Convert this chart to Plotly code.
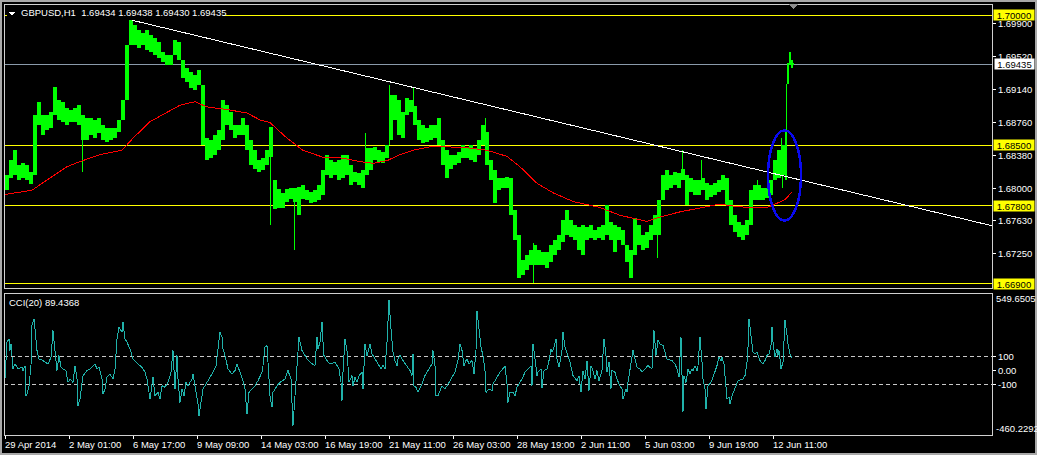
import numpy as np
import plotly.graph_objects as go

# ---------------- data ----------------
# hourly bar index (1 bar per hour, weekends skipped), sampled envelopes
bar_x = list(range(0, 781, 4)) + [782, 784, 786, 788]
bar_high = [
    1.6816, 1.6833, 1.6844, 1.6827, 1.6829, 1.6827, 1.6819, 1.6885, 1.6900, 1.6885,
    1.6885, 1.6888, 1.6917, 1.6902, 1.6900, 1.6893, 1.6891, 1.6893, 1.6896, 1.6885,
    1.6881, 1.6881, 1.6879, 1.6881, 1.6873, 1.6870, 1.6870, 1.6870, 1.6879, 1.6902,
    1.6965, 1.6994, 1.6988, 1.6983, 1.6979, 1.6983, 1.6977, 1.6974, 1.6969, 1.6957,
    1.6954, 1.6954, 1.6971, 1.6969, 1.6948, 1.6939, 1.6934, 1.6931, 1.6937, 1.6919,
    1.6858, 1.6856, 1.6862, 1.6867, 1.6902, 1.6896, 1.6888, 1.6873, 1.6873, 1.6881,
    1.6873, 1.6856, 1.6844, 1.6833, 1.6835, 1.6844, 1.6871, 1.6810, 1.6799, 1.6795,
    1.6799, 1.6801, 1.6801, 1.6802, 1.6804, 1.6798, 1.6796, 1.6798, 1.6804, 1.6821,
    1.6839, 1.6833, 1.6831, 1.6833, 1.6839, 1.6839, 1.6827, 1.6819, 1.6818, 1.6821,
    1.6847, 1.6847, 1.6848, 1.6844, 1.6842, 1.6850, 1.6908, 1.6908, 1.6902, 1.6888,
    1.6904, 1.6902, 1.6895, 1.6879, 1.6873, 1.6870, 1.6873, 1.6873, 1.6881, 1.6856,
    1.6844, 1.6839, 1.6839, 1.6842, 1.6850, 1.6848, 1.6850, 1.6847, 1.6856, 1.6873,
    1.6865, 1.6833, 1.6821, 1.6812, 1.6812, 1.6813, 1.6812, 1.6775, 1.6746, 1.6718,
    1.6723, 1.6729, 1.6735, 1.6729, 1.6727, 1.6727, 1.6735, 1.6741, 1.6746, 1.6764,
    1.6775, 1.6764, 1.6758, 1.6755, 1.6758, 1.6755, 1.6758, 1.6752, 1.6755, 1.6758,
    1.6781, 1.6761, 1.6758, 1.6755, 1.6752, 1.6735, 1.6729, 1.6766, 1.6758, 1.6746,
    1.6750, 1.6758, 1.6769, 1.6787, 1.6816, 1.6821, 1.6816, 1.6819, 1.6818, 1.6822,
    1.6816, 1.6812, 1.6810, 1.6810, 1.6812, 1.6806, 1.6804, 1.6806, 1.6810, 1.6816,
    1.6812, 1.6787, 1.6769, 1.6761, 1.6758, 1.6764, 1.6798, 1.6804, 1.6804, 1.6801,
    1.6801, 1.6810, 1.6833, 1.6844, 1.6850,
    1.6867, 1.6945, 1.6957, 1.6948, 1.6945,
]
bar_low = [
    1.6798, 1.6812, 1.6816, 1.6810, 1.6812, 1.6810, 1.6805, 1.6816, 1.6873, 1.6862,
    1.6867, 1.6870, 1.6885, 1.6879, 1.6877, 1.6873, 1.6877, 1.6877, 1.6873, 1.6856,
    1.6856, 1.6862, 1.6858, 1.6864, 1.6856, 1.6854, 1.6856, 1.6858, 1.6865, 1.6879,
    1.6902, 1.6965, 1.6965, 1.6962, 1.6965, 1.6960, 1.6957, 1.6954, 1.6950, 1.6946,
    1.6942, 1.6942, 1.6954, 1.6948, 1.6927, 1.6923, 1.6916, 1.6914, 1.6919, 1.6850,
    1.6833, 1.6835, 1.6839, 1.6844, 1.6856, 1.6873, 1.6867, 1.6858, 1.6862, 1.6862,
    1.6844, 1.6827, 1.6823, 1.6819, 1.6821, 1.6827, 1.6836, 1.6776, 1.6777, 1.6777,
    1.6784, 1.6788, 1.6784, 1.6769, 1.6788, 1.6787, 1.6783, 1.6784, 1.6787, 1.6792,
    1.6816, 1.6812, 1.6816, 1.6810, 1.6812, 1.6816, 1.6804, 1.6807, 1.6804, 1.6801,
    1.6816, 1.6821, 1.6833, 1.6831, 1.6829, 1.6835, 1.6856, 1.6879, 1.6862, 1.6858,
    1.6885, 1.6888, 1.6873, 1.6856, 1.6852, 1.6854, 1.6856, 1.6858, 1.6850, 1.6827,
    1.6812, 1.6823, 1.6827, 1.6829, 1.6835, 1.6835, 1.6833, 1.6831, 1.6839, 1.6850,
    1.6827, 1.6810, 1.6783, 1.6798, 1.6801, 1.6801, 1.6769, 1.6741, 1.6697, 1.6700,
    1.6706, 1.6712, 1.6712, 1.6712, 1.6712, 1.6708, 1.6715, 1.6723, 1.6729, 1.6738,
    1.6746, 1.6744, 1.6741, 1.6729, 1.6723, 1.6741, 1.6743, 1.6741, 1.6743, 1.6741,
    1.6746, 1.6741, 1.6727, 1.6741, 1.6735, 1.6715, 1.6697, 1.6723, 1.6735, 1.6729,
    1.6731, 1.6741, 1.6746, 1.6746, 1.6787, 1.6798, 1.6801, 1.6804, 1.6801, 1.6810,
    1.6781, 1.6796, 1.6792, 1.6792, 1.6798, 1.6787, 1.6790, 1.6792, 1.6796, 1.6798,
    1.6781, 1.6758, 1.6750, 1.6744, 1.6741, 1.6746, 1.6758, 1.6787, 1.6787, 1.6787,
    1.6789, 1.6792, 1.6810, 1.6812, 1.6816,
    1.6810, 1.6921, 1.6942, 1.6939, 1.6942,
]
# single-hour spikes
spike_x = [77, 265, 289, 360, 384, 408, 480, 528, 652, 677, 696, 752, 776, 777, 781]
spike_high = [1.6873, 1.6871, 1.6790, 1.6864, 1.6919, 1.6916, 1.6881, 1.6737, 1.6775,
              1.6844, 1.6833, 1.6810, 1.6858, 1.6820, 1.6921]
spike_low = [1.6819, 1.6758, 1.6729, 1.6821, 1.6850, 1.6879, 1.6833, 1.6691, 1.6720,
             1.6810, 1.6798, 1.6790, 1.6820, 1.6801, 1.6810]

# moving average (red)
ma_x = [0, 27, 45, 62, 75, 95, 117, 128, 145, 162, 175, 190, 202, 222, 242, 255, 265, 282,
        298, 318, 338, 355, 368, 382, 395, 408, 425, 442, 462, 482, 502, 515, 532, 548,
        568, 595, 615, 642, 655, 675, 702, 715, 732, 748, 762, 768, 780, 787]
ma_val = [1.6793, 1.6798, 1.6812, 1.6825, 1.6831, 1.6839, 1.6844, 1.6858, 1.6877, 1.6888,
          1.6896, 1.6900, 1.6894, 1.6891, 1.6887, 1.6879, 1.6876, 1.6858, 1.6844, 1.6836,
          1.6835, 1.6831, 1.6829, 1.6832, 1.6839, 1.6844, 1.6848, 1.6848, 1.6847, 1.6844,
          1.6837, 1.6825, 1.6806, 1.6795, 1.6785, 1.6778, 1.6769, 1.6762, 1.6767, 1.6773,
          1.6779, 1.6782, 1.6779, 1.6778, 1.6778, 1.6781, 1.6787, 1.6796]

# trend line (white)
trend_x = [127, 987]
trend_price = [1.6994, 1.6757]

# horizontal levels
levels = [1.70000, 1.68500, 1.67800, 1.66900]
current_price = 1.69435
price_ticks = [1.69900, 1.69520, 1.69140, 1.68760, 1.68380, 1.68000, 1.67630, 1.67250]

# highlighted zone (blue ellipse)
zone_x = [763, 796]
zone_price = [1.6763, 1.6867]

# CCI(20)
cci_x = [0, 2, 4, 5, 6, 8, 10, 13, 17, 18, 20, 21, 22, 24, 26, 27, 29, 31, 32, 34, 38, 43, 46, 48,
         50, 52, 54, 56, 58, 61, 63, 65, 68, 70, 72, 73, 75, 77, 78, 82, 85, 90, 92, 94, 97, 98,
         100, 102, 105, 108, 110, 112, 114, 117, 118, 120, 122, 125, 128, 133, 137, 140, 142,
         145, 148, 150, 153, 155, 157, 160, 163, 166, 168, 170, 172, 173, 175, 177, 179, 181,
         183, 187, 188, 191, 193, 194, 197, 198, 202, 205, 208, 211, 213, 215, 217, 218, 220,
         223, 227, 230, 232, 234, 236, 238, 240, 242, 244, 247, 250, 253, 257, 258, 260, 262,
         263, 265, 267, 268, 272, 275, 280, 283, 286, 287, 288, 290, 292, 294, 297, 302, 305,
         308, 310, 312, 313, 315, 317, 318, 319, 322, 325, 330, 332, 334, 336, 337, 338, 340,
         342, 343, 344, 347, 348, 350, 352, 354, 357, 358, 360, 362, 363, 365, 367, 370, 373,
         376, 378, 380, 382, 384, 386, 388, 390, 392, 393, 395, 398, 402, 405, 407, 408, 409,
         411, 413, 417, 420, 423, 427, 428, 430, 431, 433, 437, 440, 443, 447, 450, 453, 455,
         457, 459, 461, 462, 464, 467, 469, 471, 472, 474, 476, 478, 480, 481, 484, 487, 488,
         492, 495, 500, 502, 503, 505, 508, 510, 512, 517, 520, 524, 525, 526, 527, 528, 530,
         532, 533, 536, 537, 539, 542, 544, 546, 547, 549, 551, 552, 554, 557, 558, 560, 563,
         565, 568, 572, 574, 576, 578, 580, 582, 583, 584, 586, 588, 590, 592, 594, 597, 598,
         599, 601, 602, 604, 606, 607, 610, 612, 614, 617, 618, 621, 622, 623, 625, 628, 630,
         632, 635, 637, 640, 643, 647, 648, 649, 651, 653, 655, 658, 660, 662, 667, 670, 672,
         673, 674, 676, 677, 678, 679, 681, 683, 685, 687, 688, 690, 692, 693, 695, 697, 698,
         700, 701, 703, 706, 708, 710, 712, 714, 716, 717, 719, 721, 722, 724, 725, 727, 730,
         733, 738, 740, 742, 743, 744, 746, 748, 750, 752, 755, 758, 760, 762, 764, 766, 767,
         768, 770, 772, 773, 774, 775, 776, 778, 779, 780, 782, 783, 785, 787]
cci_val = [-62, 200, 224, 141, 188, 10, 45, 10, 21, -2, 33, -181, -169, -110, 33, 319, 367, 200,
           141, 81, 69, 45, 93, 283, 129, -2, 105, 21, 10, -2, -86, -62, -86, 33, -62, -252,
           -205, -86, -38, -2, 10, 45, 10, 21, -62, -169, -133, -50, -26, -62, 10, 224, 307,
           271, 343, 224, 200, 152, 81, 45, 21, -14, -62, -205, -50, -181, -157, -205, -110,
           -121, -86, -14, 141, -133, 105, -62, -229, -133, -181, -86, -110, -62, -26, -157,
           -240, -324, -181, -133, -86, -50, -14, 33, 164, 271, 236, 152, 105, 10, -26, -2, 45,
           10, -38, -74, -133, -312, -157, -133, -110, -74, -14, 33, 164, 176, 33, -181, -264,
           -157, -110, -86, -62, -2, -62, -205, -395, -181, 33, 236, 141, 81, 57, 45, 33, 236,
           152, 200, 343, 200, 105, 69, 45, 57, 33, 10, -86, -217, -14, 224, 141, 10, -86, -38,
           -110, -50, -86, -38, -14, -133, 188, 105, 141, 188, 117, 81, 45, 10, 33, 10, 200,
           498, 295, 129, 69, 33, 81, 105, 69, 33, -2, -38, 117, -110, -121, -157, -98, -38,
           -2, 45, 141, 33, -181, -181, -110, -133, -98, -50, -14, 69, 188, 141, 33, 69, 81,
           45, 69, -26, 141, 419, 271, 164, 105, -2, -157, -133, -145, -98, -50, -14, 29, -98,
           -229, -157, -157, -181, -121, -62, -14, 10, 21, 29, -110, 188, 81, -38, -14, 10,
           -129, -2, 10, 69, 152, 129, 164, 224, 81, 21, 141, 271, 164, 105, 57, -38, -74, -38,
           -157, -2, -62, 69, -14, -145, 33, -2, -62, -2, -74, -2, 117, 224, 105, -14, 57,
           -133, -2, -14, -62, -98, -133, -205, -133, -157, -86, -2, 141, 81, 21, 10, -14, 10,
           33, 10, 141, 283, 105, 212, 188, 176, 129, 81, 69, 45, 10, -26, -50, 236, -133,
           -295, -38, -86, 10, -26, 10, -2, 33, -2, 33, 236, 57, -62, -133, -276, -110, -86,
           -50, -14, 33, 93, 69, 93, 45, -121, -205, -193, -240, -181, -133, -74, -62, -38, 57,
           164, 367, 236, 129, 117, 129, 69, 45, 69, 105, 117, 176, 307, 200, 93, 152, 105, 141,
           81, 10, 57, 224, 355, 248, 188, 117, 89]
cci_levels = [100, -100]
cci_ticks = [100, 0, -100]
cci_tick_text = ["100", "0.00", "-100"]
cci_max, cci_min = 549.6505, -460.2292

# time axis
time_idx = [0, 64, 128, 192, 256, 320, 384, 448, 512, 576, 640, 704, 768]
time_text = ["29 Apr 2014", "2 May 01:00", "6 May 17:00", "9 May 09:00", "14 May 03:00",
             "16 May 19:00", "21 May 11:00", "26 May 03:00", "28 May 19:00", "2 Jun 11:00",
             "5 Jun 03:00", "9 Jun 19:00", "12 Jun 11:00"]

title_text = "GBPUSD,H1  1.69434 1.69438 1.69430 1.69435"
cci_title = "CCI(20) 89.4368"

# ---------------- figure ----------------
FONT = "Liberation Sans, Arial, sans-serif"
FS = 9.5
W, H = 1037, 455
ML, MR, MT, MB = 4, 45, 4, 20
PW, PH = W - ML - MR, H - MT - MB


def px_x(p):
    return (p - ML) / PW


def px_y(p):
    return (H - MB - p) / PH


main_dom = [px_y(288), 1.0]
cci_dom = [0.0, px_y(293)]

fig = go.Figure()

bx = np.array(bar_x, dtype=float)
bw = np.append(np.diff(bx), 1.0)
fig.add_trace(go.Bar(
    x=bar_x, y=np.array(bar_high) - np.array(bar_low), base=bar_low,
    width=bw, offset=0, marker=dict(color="#00FF00", line=dict(width=0)),
    xaxis="x", yaxis="y", hoverinfo="skip"))
fig.add_trace(go.Bar(
    x=spike_x, y=np.array(spike_high) - np.array(spike_low), base=spike_low,
    width=1, offset=0, marker=dict(color="#00FF00", line=dict(width=0)),
    xaxis="x", yaxis="y", hoverinfo="skip"))
fig.add_trace(go.Scatter(x=ma_x, y=ma_val, mode="lines",
                         line=dict(color="#FF0000", width=1), xaxis="x", yaxis="y"))
fig.add_trace(go.Scatter(x=trend_x, y=trend_price, mode="lines",
                         line=dict(color="#FFFFFF", width=1), xaxis="x", yaxis="y"))
fig.add_trace(go.Scatter(x=cci_x, y=cci_val, mode="lines",
                         line=dict(color="#20B2AA", width=1), xaxis="x", yaxis="y2"))

shapes = []
for lv in levels:
    shapes.append(dict(type="line", xref="x domain", x0=0, x1=1, yref="y", y0=lv, y1=lv,
                       line=dict(color="#FFFF00", width=1), layer="below"))
shapes.append(dict(type="line", xref="x domain", x0=0, x1=1, yref="y",
                   y0=current_price, y1=current_price,
                   line=dict(color="#8A9AAA", width=1), layer="below"))
for lv in cci_levels:
    shapes.append(dict(type="line", xref="x domain", x0=0, x1=1, yref="y2", y0=lv, y1=lv,
                       line=dict(color="#C8C8C8", width=1, dash="4px,3px"), layer="below"))
# blue ellipse
shapes.append(dict(type="circle", xref="x", yref="y", x0=zone_x[0], x1=zone_x[1],
                   y0=zone_price[0], y1=zone_price[1],
                   line=dict(color="#0A0AF0", width=2.5), layer="above"))
# panel frames
shapes.append(dict(type="rect", xref="x domain", yref="y domain", x0=0, x1=1, y0=0, y1=1,
                   line=dict(color="#D0D0D0", width=1), layer="above"))
shapes.append(dict(type="rect", xref="x domain", yref="y2 domain", x0=0, x1=1, y0=0, y1=1,
                   line=dict(color="#D0D0D0", width=1), layer="above"))
# black backing behind chart title
shapes.append(dict(type="rect", xref="paper", yref="paper", x0=px_x(7), x1=px_x(223),
                   y0=px_y(18), y1=px_y(8), fillcolor="black", line=dict(width=0),
                   layer="above"))
# small menu triangle
shapes.append(dict(type="path", xref="paper", yref="paper",
                   path=f"M {px_x(8)} {px_y(11.5)} L {px_x(16)} {px_y(11.5)} L {px_x(12)} {px_y(15.5)} Z",
                   fillcolor="white", line=dict(width=0), layer="above"))
# chart shift marker
shapes.append(dict(type="path", xref="paper", yref="paper",
                   path=f"M {px_x(788)} {px_y(4)} L {px_x(798)} {px_y(4)} L {px_x(793)} {px_y(9)} Z",
                   fillcolor="#8C8C8C", line=dict(width=0), layer="above"))
# outer window frame
shapes.append(dict(type="rect", xref="paper", yref="paper", x0=px_x(1), x1=px_x(1036),
                   y0=px_y(454), y1=px_y(1), line=dict(color="#A8A8A8", width=2),
                   layer="above"))

ann = []
ann.append(dict(xref="paper", yref="paper", x=px_x(19), y=px_y(12.5), xanchor="left",
                yanchor="middle", text=title_text, showarrow=False,
                font=dict(family=FONT, size=FS, color="white")))
ann.append(dict(xref="paper", yref="paper", x=px_x(7), y=px_y(302), xanchor="left",
                yanchor="middle", text=cci_title, showarrow=False,
                font=dict(family=FONT, size=FS, color="white")))
for i, t in zip(time_idx, time_text):
    ann.append(dict(xref="x", yref="paper", x=i, y=0, xanchor="left", yanchor="top",
                    xshift=-2, yshift=-2, text=t, showarrow=False,
                    font=dict(family=FONT, size=FS, color="white")))
for lv in levels:
    ann.append(dict(xref="paper", yref="y", x=1, y=lv, xanchor="left", yanchor="middle",
                    xshift=1, text=f"{lv:.5f}", showarrow=False, bgcolor="#FFFF00",
                    width=40, height=10, borderpad=0,
                    font=dict(family=FONT, size=FS, color="black")))
ann.append(dict(xref="paper", yref="y", x=1, y=current_price, xanchor="left",
                yanchor="middle", xshift=2, text=f"{current_price:.5f}", showarrow=False,
                bgcolor="#FFFFFF", width=39, height=10, borderpad=0,
                font=dict(family=FONT, size=FS, color="black")))
ann.append(dict(xref="paper", yref="y2", x=1, y=cci_max, xanchor="left", yanchor="middle",
                xshift=2, yshift=-6, text=f"{cci_max:.4f}", showarrow=False,
                font=dict(family=FONT, size=FS, color="white")))
ann.append(dict(xref="paper", yref="y2", x=1, y=cci_min, xanchor="left", yanchor="middle",
                xshift=2, yshift=6, text=f"{cci_min:.4f}", showarrow=False,
                font=dict(family=FONT, size=FS, color="white")))

axis_common = dict(showgrid=False, zeroline=False, showline=False, fixedrange=True)
fig.update_layout(
    width=W, height=H, margin=dict(l=ML, r=MR, t=MT, b=MB),
    paper_bgcolor="black", plot_bgcolor="black", showlegend=False,
    barmode="overlay", bargap=0,
    xaxis=dict(domain=[0, 1], range=[-1, PW - 1], anchor="y2", ticks="outside",
               ticklen=3, tickcolor="white", tickvals=time_idx, showticklabels=False,
               **axis_common),
    yaxis=dict(domain=main_dom, range=[1.66852, 1.70127], anchor="x", side="right",
               tickvals=price_ticks, ticktext=[f"{v:.5f}" for v in price_ticks],
               ticks="outside", ticklen=3, tickcolor="white",
               tickfont=dict(family=FONT, size=FS, color="white"), **axis_common),
    yaxis2=dict(domain=cci_dom, range=[cci_min, cci_max], anchor="x", side="right",
                tickvals=cci_ticks, ticktext=cci_tick_text, ticks="outside", ticklen=3,
                tickcolor="white", tickfont=dict(family=FONT, size=FS, color="white"),
                **axis_common),
    shapes=shapes, annotations=ann,
)

fig.write_html(
    "out.html",
    config={"displayModeBar": False, "staticPlot": True},
    post_script=(
        "document.body.style.margin='0';document.body.style.padding='0';"
        "document.body.style.background='black';"
        "document.documentElement.style.overflow='hidden';"
        "var s=document.createElement('style');"
        "s.innerHTML='.main-svg path{shape-rendering:crispEdges !important;}';"
        "document.head.appendChild(s);"
    ),
)
